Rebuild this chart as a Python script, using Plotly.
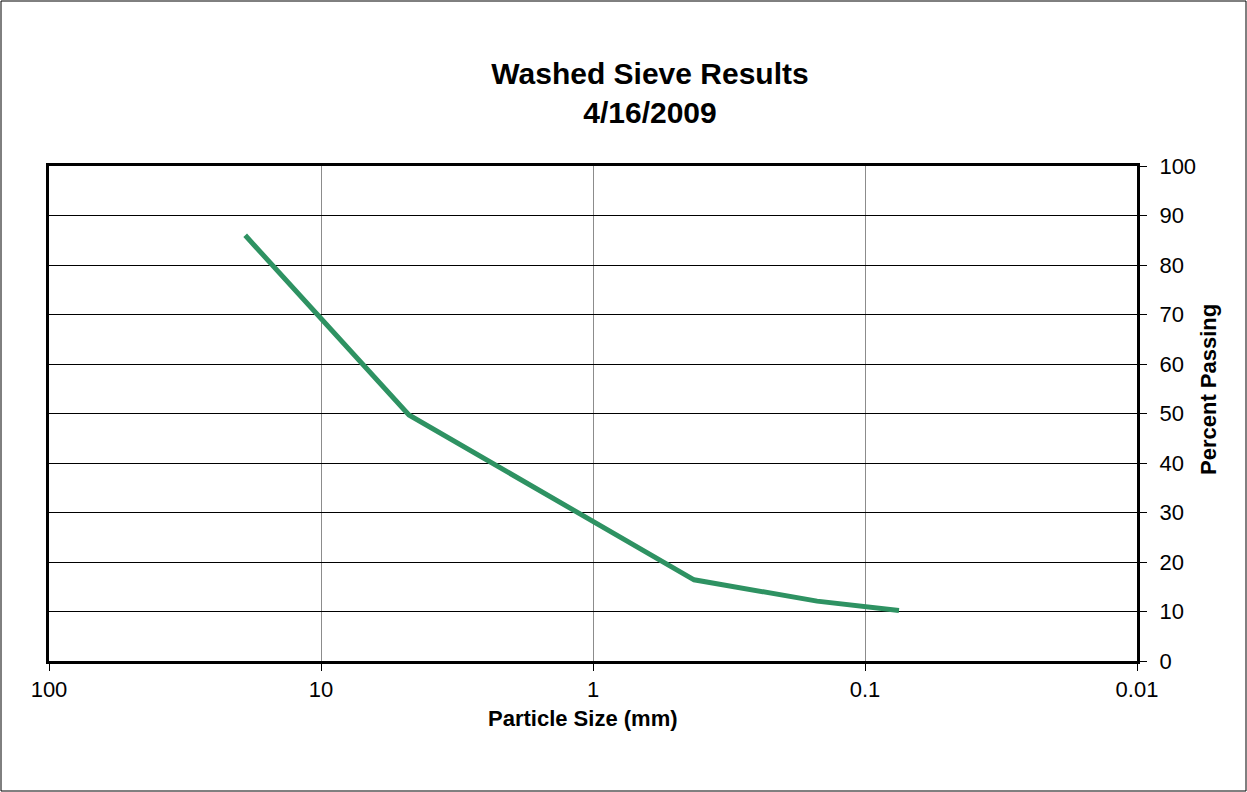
import plotly.graph_objects as go

particle_size_mm = [19.0, 4.75, 0.425, 0.15, 0.075]
percent_passing = [86.0, 49.7, 16.4, 12.1, 10.2]

x_tick_vals = [100, 10, 1, 0.1, 0.01]
x_tick_text = ["100", "10", "1", "0.1", "0.01"]
y_tick_vals = [0, 10, 20, 30, 40, 50, 60, 70, 80, 90, 100]

FONT = "Liberation Sans, Arial, sans-serif"
W, H = 1247, 792
L, R, T, B = 49, 110, 166, 131

fig = go.Figure()
fig.add_trace(go.Scatter(
    x=particle_size_mm, y=percent_passing, mode="lines",
    line=dict(color="#2E9262", width=5), showlegend=False,
))

pw = W - L - R
ph = H - T - B
fig.add_shape(type="rect", xref="paper", yref="paper",
              x0=(1 - L) / pw, x1=(W - 1 - L) / pw,
              y0=-(B - 1) / ph, y1=(H - B - 1) / ph,
              line=dict(color="black", width=1), layer="below")

# axis titles as annotations for exact placement
fig.add_annotation(text="<b>Particle Size (mm)</b>", xref="paper", yref="paper",
                   x=(583 - L) / pw, y=-(718 - (H - B)) / ph,
                   xanchor="center", yanchor="middle", showarrow=False,
                   font=dict(size=22, family=FONT, color="black"))
fig.add_annotation(text="<b>Percent Passing</b>", xref="paper", yref="paper",
                   x=(1208 - L) / pw, y=((H - B) - 390) / ph,
                   xanchor="center", yanchor="middle", showarrow=False, textangle=-90,
                   font=dict(size=22, family=FONT, color="black"))

fig.update_layout(
    width=W, height=H,
    margin=dict(l=L, r=R, t=T, b=B),
    paper_bgcolor="white", plot_bgcolor="white",
    font=dict(family=FONT, color="black", size=22),
    title=dict(text="<b>Washed Sieve Results<br>4/16/2009</b>",
               font=dict(size=30, family=FONT, color="black"),
               x=650 / W, xanchor="center", xref="container",
               y=1 - 84 / H, yanchor="middle", yref="container"),
    xaxis=dict(
        type="log", range=[2, -2],
        tickmode="array", tickvals=x_tick_vals, ticktext=x_tick_text,
        showgrid=True, gridcolor="#8c8c8c", gridwidth=1,
        showline=True, linecolor="black", linewidth=3, mirror=True,
        ticks="outside", ticklen=7, tickcolor="black", tickwidth=1,
        tickfont=dict(size=22),
        zeroline=False,
    ),
    yaxis=dict(
        side="right", range=[0, 100],
        tickmode="array", tickvals=y_tick_vals,
        showgrid=True, gridcolor="black", gridwidth=1,
        showline=True, linecolor="black", linewidth=3, mirror=True,
        ticks="outside", ticklen=7, tickcolor="black", tickwidth=1,
        tickfont=dict(size=22), ticklabelstandoff=8,
        zeroline=False,
    ),
)

fig.write_html("out.html")
